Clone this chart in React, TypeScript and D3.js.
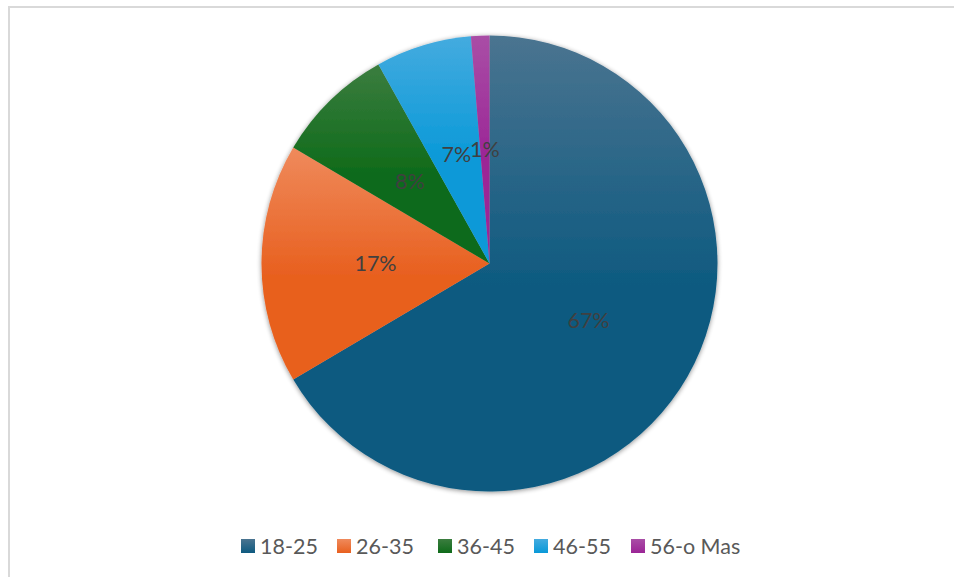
import React from "react";
import * as d3 from "d3";

const categories = ["18-25", "26-35", "36-45", "46-55", "56-o Mas"];
const values = [66.5, 17, 8.4, 6.8, 1.3];
const labels = ["67%", "17%", "8%", "7%", "1%"];
const baseColors = ["#0e5a80", "#e8601f", "#0f6b1a", "#0999d8", "#9b2596"];
const topColors = ["#4a7490", "#ef8a5c", "#3b7d3f", "#44abdf", "#a94ea6"];

const W = 954;
const H = 577;
const cx = 489.5;
const cy = 263.5;
const R = 228;

export default function App() {
  const pie = d3
    .pie<number>()
    .sort(null)
    .value((d) => d)
    .startAngle(0)
    .endAngle(2 * Math.PI);
  const arcs = pie(values);
  const arc = d3.arc<d3.PieArcDatum<number>>().innerRadius(0).outerRadius(R);
  const labelArc = d3
    .arc<d3.PieArcDatum<number>>()
    .innerRadius(R * 0.5)
    .outerRadius(R * 0.5);

  const legendX = [241, 337, 438, 534, 631];
  const legendY = 546;

  return (
    <svg
      width={W}
      height={H}
      style={{ position: "absolute", left: 0, top: 0, display: "block", background: "#fff" }}
    >
      <defs>
        {categories.map((c, i) => (
          <linearGradient key={c} id={`g${i}`} x1="0" y1="0" x2="0" y2="1">
            <stop offset="0" stopColor={topColors[i]} />
            <stop offset="0.55" stopColor={baseColors[i]} />
            <stop offset="1" stopColor={baseColors[i]} />
          </linearGradient>
        ))}
        {categories.map((c, i) => (
          <linearGradient key={c + "l"} id={`lg${i}`} x1="0" y1="0" x2="0" y2="1">
            <stop offset="0" stopColor={topColors[i]} />
            <stop offset="1" stopColor={baseColors[i]} />
          </linearGradient>
        ))}
        <filter id="shadow" x="-10%" y="-10%" width="120%" height="120%">
          <feGaussianBlur in="SourceAlpha" stdDeviation="2.5" />
          <feOffset dx="0" dy="1" result="b" />
          <feComponentTransfer>
            <feFuncA type="linear" slope="0.45" />
          </feComponentTransfer>
          <feMerge>
            <feMergeNode />
            <feMergeNode in="SourceGraphic" />
          </feMerge>
        </filter>
      </defs>
      <rect x={9} y={7} width={2000} height={2000} fill="none" stroke="#d9d9d9" strokeWidth={2} />
      <g transform={`translate(${cx},${cy})`} filter="url(#shadow)">
        {arcs.map((a, i) => (
          <path key={categories[i]} d={arc(a) || ""} fill={`url(#g${i})`} />
        ))}
      </g>
      <g transform={`translate(${cx},${cy})`}>
        {arcs.map((a, i) => {
          const [x, y] = labelArc.centroid(a);
          return (
            <text
              key={labels[i]}
              x={x}
              y={y}
              dy="0.35em"
              textAnchor="middle"
              fontFamily="Lato, 'Open Sans', sans-serif"
              fontSize={21.5}
              fill="#404040"
            >
              {labels[i]}
            </text>
          );
        })}
      </g>
      <g>
        {categories.map((c, i) => (
          <g key={c} transform={`translate(${legendX[i]},${legendY})`}>
            <rect x={0} y={-7} width={14} height={14} fill={`url(#lg${i})`} />
            <text
              x={19}
              y={0}
              dy="0.36em"
              fontFamily="Lato, 'Open Sans', sans-serif"
              fontSize={21.5}
              fill="#595959"
            >
              {c}
            </text>
          </g>
        ))}
      </g>
    </svg>
  );
}
